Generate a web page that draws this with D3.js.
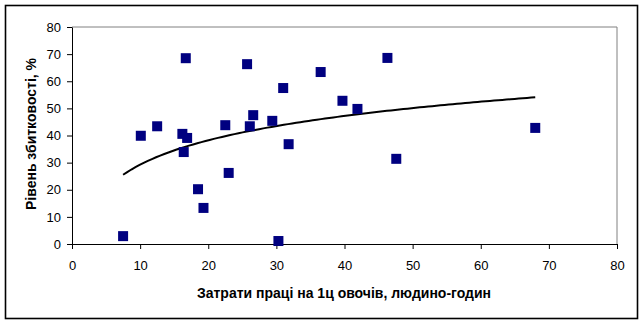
<!DOCTYPE html>
<html><head><meta charset="utf-8">
<script src="https://cdn.jsdelivr.net/npm/d3@7"></script>
<style>html,body{margin:0;padding:0;background:#fff;}svg{display:block;}</style>
</head><body>
<svg id="c" width="643" height="323"></svg>
<script>
const xValues = [7.5, 10.1, 12.5, 16.2, 16.9, 16.4, 16.7, 18.5, 19.3, 23.0, 22.5, 25.7, 26.1, 26.6, 29.4, 30.3, 31.0, 31.8, 36.5, 39.7, 41.9, 46.3, 47.6, 68.0];
const yValues = [2.9, 39.9, 43.4, 40.6, 39.1, 33.9, 68.5, 20.2, 13.3, 26.2, 43.8, 66.3, 43.4, 47.5, 45.4, 1.1, 57.5, 36.8, 63.4, 52.8, 49.8, 68.6, 31.4, 42.8];
const xTicks = [0, 10, 20, 30, 40, 50, 60, 70, 80];
const yTicks = [0, 10, 20, 30, 40, 50, 60, 70, 80];
const xTitle = "Затрати праці на 1ц овочів, людино-годин";
const yTitle = "Рівень збитковості, %";

const svg = d3.select("#c");
const L = 72, R = 617, T = 27, B = 244;
const x = d3.scaleLinear().domain([0, 80]).range([L, R]);
const y = d3.scaleLinear().domain([0, 80]).range([B, T]);
const font = "'Liberation Sans', Arial, sans-serif";

svg.append("rect").attr("x", 5.5).attr("y", 5.5).attr("width", 632).attr("height", 313)
  .attr("fill", "#fff").attr("stroke", "#000").attr("stroke-width", 1.6);

// plot area frame (grey top/right)
svg.append("path").attr("d", `M${L},${T}H${R}V${B}`).attr("fill", "none").attr("stroke", "#808080").attr("stroke-width", 1);

const xa = svg.append("g").attr("transform", `translate(0,${B})`)
  .call(d3.axisBottom(x).tickValues(xTicks).tickSize(5).tickSizeOuter(0).tickPadding(12));
const ya = svg.append("g").attr("transform", `translate(${L},0)`)
  .call(d3.axisLeft(y).tickValues(yTicks).tickSize(5).tickSizeOuter(0).tickPadding(6));
[xa, ya].forEach(a => {
  a.selectAll("path").attr("stroke", "#000").attr("stroke-width", 1);
  a.selectAll("line").attr("stroke", "#000");
  a.selectAll("text").attr("font-family", font).attr("font-size", 13).attr("fill", "#000");
});

// log trend line (least squares fit of y = a ln x + b)
const lx = xValues.map(Math.log);
const mx = d3.mean(lx), my = d3.mean(yValues);
const a = d3.sum(lx.map((v, i) => (v - mx) * (yValues[i] - my))) / d3.sum(lx.map(v => (v - mx) ** 2));
const b = my - a * mx;
const x0 = d3.min(xValues), x1 = d3.max(xValues);
const tr = d3.range(0, 101).map(i => x0 + (x1 - x0) * i / 100);
svg.append("path").datum(tr)
  .attr("d", d3.line().x(d => x(d)).y(d => y(a * Math.log(d) + b)))
  .attr("fill", "none").attr("stroke", "#000").attr("stroke-width", 2);

const s = 10;
svg.append("g").selectAll("rect").data(xValues).join("rect")
  .attr("x", (d) => x(d) - s / 2).attr("y", (d, i) => y(yValues[i]) - s / 2)
  .attr("width", s).attr("height", s).attr("fill", "#000080");

svg.append("text").attr("x", 344).attr("y", 298).attr("text-anchor", "middle")
  .attr("font-family", font).attr("font-size", 14).attr("font-weight", "bold").text(xTitle);
svg.append("text").attr("transform", "translate(36,134) rotate(-90)").attr("text-anchor", "middle")
  .attr("font-family", font).attr("font-size", 14).attr("font-weight", "bold").text(yTitle);
</script>
</body></html>
